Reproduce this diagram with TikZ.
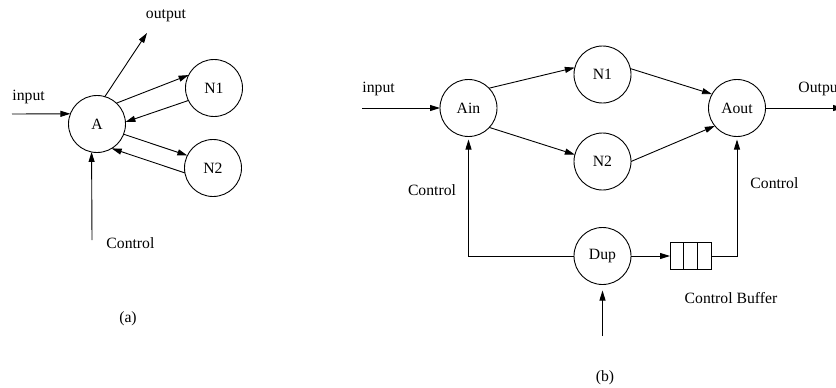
\documentclass[tikz,border=0pt]{standalone}
\usepackage{fontspec}
\setmainfont{Liberation Serif}
\usetikzlibrary{arrows.meta,calc}
\begin{document}
\begin{tikzpicture}[x=1pt,y=-1pt,
  font=\fontsize{15.7}{18}\selectfont,
  line width=0.9pt,
  proc/.style={draw,circle,minimum size=57pt,inner sep=0pt,outer sep=0pt},
  arr/.style={-{Triangle[length=10pt,width=6pt]}},
  lbl/.style={inner sep=0pt}]
\useasboundingbox (0,0) rectangle (836,388);
\clip (0,0) rectangle (836,388);

% ---- (a) single actor with two workers ----
\node[proc] (A)  at (97,124) {A};
\node[proc] (N1) at (214,88) {N1};
\node[proc] (N2) at (213,168) {N2};
\coordinate (inA)  at (12,114);
\coordinate (outA) at (147,33);
\coordinate (ctlA) at (92,240);
\draw[arr] (inA) -- (A.159);
\draw[arr] (A.74) -- (outA);
\draw[arr] (ctlA) -- (A.-101);
\draw[arr] (A.47) -- (N1.153);
\draw[arr] (N1.206) -- (A.4);
\draw[arr] (A.-21) -- (N2.154);
\draw[arr] (N2.190) -- (A.-59);
\node[lbl,anchor=west] (tinA) at (12,97) {input};
\node[lbl] (toutA) at (166,16) {output};
\node[lbl,anchor=west] (tctlA) at (106,243) {Control};
\node[lbl] (capA) at (128,319) {(a)};

% ---- (b) split/merge actors with duplicated control ----
\node[proc] (Ain)  at (468.5,108) {Ain};
\node[proc] (M1)   at (602.5,74.5) {N1};
\node[proc] (M2)   at (602.5,161.5) {N2};
\node[proc] (Aout) at (737,108) {Aout};
\node[proc] (Dup)  at (602.5,256) {Dup};
\node[draw,rectangle,minimum width=41pt,minimum height=27pt,inner sep=0pt,outer sep=0pt] (buf) at (690.5,256) {};
\draw ($(buf.north west)!1/3!(buf.north east)$) -- ($(buf.south west)!1/3!(buf.south east)$);
\draw ($(buf.north west)!2/3!(buf.north east)$) -- ($(buf.south west)!2/3!(buf.south east)$);
\coordinate (inB)  at (362,108);
\coordinate (outB) at (843,108);
\coordinate (dupin) at (602.5,336);
\draw[arr] (inB) -- (Ain.west);
\draw[arr] (Aout.east) -- (outB);
\draw[arr] (Ain.44) -- (M1.166);
\draw[arr] (Ain.-43) -- (M2.166);
\draw[arr] (M1.12) -- (Aout.151);
\draw[arr] (M2.0) -- (Aout.219);
\draw[arr,shorten >=3pt] (Dup.west) -| (Ain.south);
\draw[arr] (Dup.east) -- (buf.west);
\draw[arr,shorten >=3pt] (buf.east) -| (Aout.south);
\draw[arr,shorten >=6pt] (dupin) -- (Dup.south);
\node[lbl,anchor=west] (tinB) at (362,89) {input};
\node[lbl,anchor=west] (toutB) at (798,89) {Output};
\node[lbl] (tctlB1) at (432,190) {Control};
\node[lbl,anchor=west] (tctlB2) at (750,183) {Control};
\node[lbl] (tbuf) at (731,298) {Control Buffer};
\node[lbl] (capB) at (605,378) {(b)};
\end{tikzpicture}
\end{document}
